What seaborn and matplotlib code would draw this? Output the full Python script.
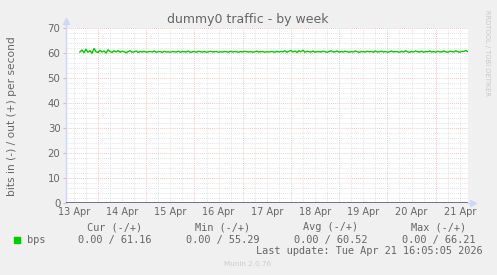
import matplotlib
matplotlib.use("Agg")
import matplotlib.pyplot as plt
import seaborn as sns
import pandas as pd
import numpy as np

# ---- data ----
start_time = "2026-04-13 15:00"
out_bps = [
    60.4, 61.2, 60.1, 61.5, 60.3, 60.9, 59.9, 61.8, 60.5, 60.2, 61.1, 60.4,
    60.8, 60.0, 61.3, 60.6, 60.2, 60.9, 60.4, 61.0, 60.3, 60.7, 60.5, 60.1,
    60.6, 60.9, 60.3, 60.5, 60.8, 60.2, 60.6, 60.4, 60.7, 60.3, 60.5, 60.6,
    60.4, 60.8, 60.3, 60.5, 60.6, 60.2, 60.7, 60.4, 60.5, 60.3, 60.6, 60.5,
    60.4, 60.7, 60.3, 60.6, 60.5, 60.4, 60.8, 60.2, 60.5, 60.6, 60.3, 60.7,
    60.5, 60.4, 60.6, 60.3, 60.5, 60.7, 60.4, 60.5, 60.6, 60.3, 60.5, 60.4,
    60.6, 60.5, 60.3, 60.7, 60.4, 60.6, 60.5, 60.3, 60.6, 60.4, 60.7, 60.5,
    60.4, 60.6, 60.3, 60.5, 60.7, 60.4, 60.5, 60.6, 60.3, 60.5, 60.4, 60.6,
    60.5, 60.3, 60.7, 60.4, 60.6, 60.5, 60.9, 60.3, 60.7, 61.0, 60.4, 60.8,
    60.2, 60.9, 60.5, 61.1, 60.3, 60.7, 60.5, 60.4, 60.8, 60.3, 60.6, 60.5,
    60.4, 60.7, 60.5, 60.3, 60.6, 60.9, 60.4, 60.5, 60.8, 60.3, 60.6, 60.4,
    60.7, 60.5, 60.3, 60.6, 60.4, 60.8, 60.5, 60.3, 60.6, 60.5, 60.4, 60.7,
    60.5, 60.6, 60.3, 60.8, 60.4, 60.5, 60.7, 60.4, 60.6, 60.3, 60.5, 60.8,
    60.4, 60.6, 60.5, 60.3, 60.7, 60.4, 60.9, 60.5, 60.3, 60.6, 60.4, 60.8,
    60.5, 60.4, 60.7, 60.3, 60.6, 60.5, 60.8, 60.4, 60.6, 60.3, 60.7, 60.5,
    60.4, 60.8, 60.5, 60.3, 60.7, 60.6, 60.4, 60.9, 60.5, 60.3, 60.7, 60.6,
    61.0, 60.5,
]
legend_cols = ["Cur (-/+)", "Min (-/+)", "Avg (-/+)", "Max (-/+)"]
legend_vals = ["0.00 / 61.16", "0.00 / 55.29", "0.00 / 60.52", "0.00 / 66.21"]
series_name = "bps"
title = "dummy0 traffic - by week"
ylabel = "bits in (-) / out (+) per second"
last_update = "Last update: Tue Apr 21 16:05:05 2026"
y_ticks = [0, 10, 20, 30, 40, 50, 60, 70]
x_start = "2026-04-13 08:05"
x_end = "2026-04-21 16:05"

# ---- figure ----
W, H = 497, 275
fig = plt.figure(figsize=(W / 100, H / 100), dpi=100, facecolor="#F0F0F0")
L, R, T, B = 66, 468, 28, 203
ax = fig.add_axes([L / W, 1 - B / H, (R - L) / W, (B - T) / H])
ax.set_facecolor("white")

t0 = pd.Timestamp(x_start)
t1 = pd.Timestamp(x_end)
ax.set_xlim(t0, t1)
ax.set_ylim(0, 70)

# grid
mgrid = "#EBB4B4"
grid = "#DADADA"
dot = (0, (1, 1.5))
for v in np.arange(0, 71, 2):
    if v % 10 == 0:
        continue
    ax.axhline(v, color=grid, lw=0.6, ls=dot, zorder=1)
for v in y_ticks[1:]:
    ax.axhline(v, color=mgrid, lw=0.6, ls=dot, zorder=1)
for t in pd.date_range("2026-04-13 12:00", "2026-04-21 12:00", freq="6h"):
    if t.hour == 0:
        continue
    ax.axvline(t, color=grid, lw=0.6, ls=dot, zorder=1)
for t in pd.date_range("2026-04-14", "2026-04-21", freq="D"):
    ax.axvline(t, color=mgrid, lw=0.6, ls=dot, zorder=1)

# data
df = pd.DataFrame({
    "time": pd.date_range(start_time, periods=len(out_bps), freq="h"),
    "bps": out_bps,
})
sns.lineplot(data=df, x="time", y="bps", ax=ax, color="#00CC00",
             lw=1.0, zorder=3, legend=False)
ax.axhline(0, color="#70708A", lw=1.4, zorder=4)

# axes styling
for s in ax.spines.values():
    s.set_visible(False)
ax.set_xlabel("")
ax.set_ylabel("")
fc = "#666666"
ax.set_yticks(y_ticks)
ax.set_yticklabels([str(v) for v in y_ticks])
ax.tick_params(axis="y", length=2, color=mgrid, pad=2, labelsize=7.3,
               labelcolor=fc)
noon = pd.date_range("2026-04-13 12:00", "2026-04-21 12:00", freq="D")
ax.set_xticks(noon)
ax.set_xticklabels([f"{t.day} Apr" for t in noon])
ax.tick_params(axis="x", length=0, pad=3, labelsize=7.0, labelcolor=fc)

axis_c = "#CFD6F8"
ax.plot([0, 0], [0, 1.035], transform=ax.transAxes, color=axis_c, lw=1,
        clip_on=False, zorder=2)
ax.plot([0], [1.04], transform=ax.transAxes, marker="^", ms=4.5,
        color=axis_c, clip_on=False)
ax.plot([1.0, 1.01], [0, 0], transform=ax.transAxes, color=axis_c, lw=1,
        clip_on=False)
ax.plot([1.012], [0], transform=ax.transAxes, marker=">", ms=4.5,
        color=axis_c, clip_on=False)

# texts
fig.text(248 / W, 1 - 19 / H, title, ha="center", va="center",
         fontsize=9.0, color=fc)
fig.text(12 / W, 1 - 116 / H, ylabel, rotation=90, ha="center",
         va="center", fontsize=7.7, color=fc)
fig.text(487 / W, 1 - 53 / H, "RRDTOOL / TOBI OETIKER", rotation=-90,
         ha="center", va="center", fontsize=4.9, color="#C8C8C8")

mono = "DejaVu Sans Mono"
fs = 7.4
fig.patches.append(matplotlib.patches.Rectangle(
    (14 / W, 1 - 243 / H), 6 / W, 6 / H, transform=fig.transFigure,
    color="#00CC00"))
fig.text(27 / W, 1 - 240 / H, series_name, family=mono, fontsize=fs,
         color=fc, va="center", ha="left")
centers = [115, 223, 331, 439]
for c, col, val in zip(centers, legend_cols, legend_vals):
    fig.text(c / W, 1 - 227 / H, col, family=mono, fontsize=fs, color=fc,
             va="center", ha="center")
    fig.text(c / W, 1 - 239.5 / H, val, family=mono, fontsize=fs, color=fc,
             va="center", ha="center")
fig.text(483 / W, 1 - 251.5 / H, last_update, family=mono, fontsize=fs,
         color=fc, va="center", ha="right")
fig.text(248 / W, 1 - 264 / H, "Munin 2.0.76", fontsize=5.2,
         color="#CCCCCC", va="center", ha="center")

fig.savefig("out.png", dpi=100, facecolor=fig.get_facecolor())
